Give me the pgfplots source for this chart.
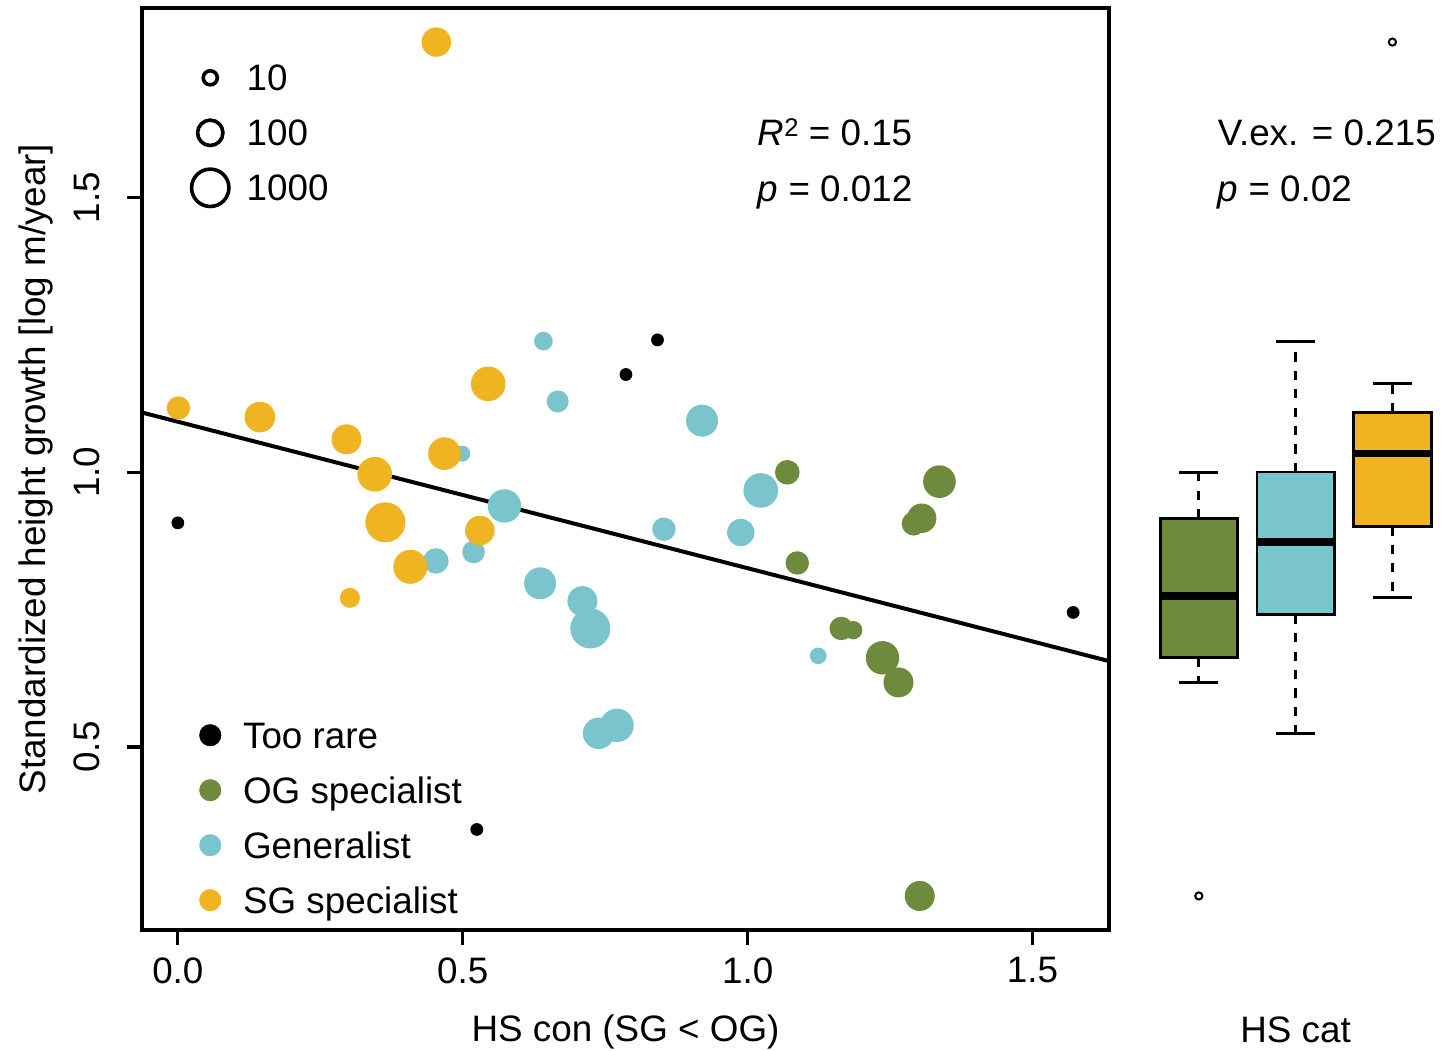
\documentclass[border=0pt]{standalone}
\usepackage{fontspec}
\setmainfont{Liberation Sans}
\usepackage{pgfplots}
\usepackage{pgfplotstable}
\pgfplotsset{compat=1.18}
\usepgfplotslibrary{statistics}
\definecolor{og}{HTML}{6E8B3D}
\definecolor{gen}{HTML}{7AC5CD}
\definecolor{sg}{HTML}{EEB422}

\def\perpointmarksize{2}
\pgfdeclareplotmark{bubble}{\pgfpathcircle{\pgfpointorigin}{\perpointmarksize pt}\pgfusepathqfill}

% x = HS con, y = height growth, r = bubble radius (pt)
\pgfplotstableread{
x y r
1.0696 1.000 3.08
1.3366 0.983 4.08
1.3055 0.9164 3.68
1.2915 0.9067 3.00
1.0871 0.835 2.93
1.1642 0.7158 2.93
1.1852 0.7127 2.30
1.2367 0.6624 4.18
1.2647 0.6176 3.75
1.302 0.229 3.75
}\ogdata
\pgfplotstableread{
x y r
0.6416 1.2387 2.33
0.6666 1.129 2.75
0.4991 1.034 2.00
0.920 1.094 4.00
0.5732 0.9387 4.18
1.023 0.967 4.33
0.853 0.8964 2.93
0.988 0.8904 3.43
0.4529 0.8387 3.18
0.519 0.855 2.83
0.6358 0.798 4.00
0.710 0.7655 3.75
0.7239 0.7158 5.00
1.1239 0.666 2.08
0.7384 0.525 3.93
0.7707 0.5395 4.18
}\gendata
\pgfplotstableread{
x y r
0.4536 1.783 3.68
0.001 1.117 2.93
0.144 1.1005 3.83
0.296 1.060 3.75
0.5447 1.161 4.33
0.468 1.034 4.08
0.3455 0.9964 4.33
0.3642 0.909 5.00
0.408 0.828 4.25
0.530 0.894 3.68
0.302 0.7715 2.50
}\sgdata
\pgfplotstableread{
x y r
0.0 0.908 1.6
0.7864 1.178 1.6
0.8418 1.241 1.6
0.5247 0.350 1.6
1.5713 0.745 1.6
}\raredata

\pgfplotsset{
  bub/.style={scatter, only marks, mark=bubble, forget plot,
    point meta=\thisrow{r},
    visualization depends on={\thisrow{r} \as \perpointmarksize},
    scatter/@pre marker code/.code={\scope[color=#1, fill=#1, mark size=\perpointmarksize pt]},
    scatter/@post marker code/.code={\endscope}},
  legimg/.style={legend image code/.code={%
    \draw[mark repeat=2,mark phase=2,##1] plot coordinates {(0pt,0pt) (8.5pt,0pt) (17pt,0pt)};
    \path[draw=none, fill=none] (0pt,-5.5pt) rectangle (17pt,5.5pt);}},
  legsty/.style={legend cell align=left, legimg,
    legend style={draw=none, fill=none, inner xsep=0pt, inner ysep=0pt,
      row sep=2.75pt,
      nodes={inner sep=0pt, text height=6.8pt, text depth=0.3pt}}},
  boxplot/draw/lower whisker/.code={%
    \draw[dash pattern=on 2.3pt off 2.3pt, line width=0.68pt]
      (boxplot box cs:\pgfplotsboxplotvalue{lower quartile},0.5) --
      (boxplot box cs:\pgfplotsboxplotvalue{lower whisker},0.5);
    \draw[line width=0.68pt]
      (boxplot whisker cs:\pgfplotsboxplotvalue{lower whisker},0) --
      (boxplot whisker cs:\pgfplotsboxplotvalue{lower whisker},1);},
  boxplot/draw/upper whisker/.code={%
    \draw[dash pattern=on 2.3pt off 2.3pt, line width=0.68pt]
      (boxplot box cs:\pgfplotsboxplotvalue{upper quartile},0.5) --
      (boxplot box cs:\pgfplotsboxplotvalue{upper whisker},0.5);
    \draw[line width=0.68pt]
      (boxplot whisker cs:\pgfplotsboxplotvalue{upper whisker},0) --
      (boxplot whisker cs:\pgfplotsboxplotvalue{upper whisker},1);},
}

\newcommand{\sqr}{\raisebox{2.3pt}{\fontsize{6.4}{7}\selectfont 2}}

\begin{document}
\fontsize{9.2}{11}\selectfont
\begin{tikzpicture}
\useasboundingbox (-35.5pt,-30pt) rectangle (327.25pt,232.5pt);

% ---------------- main scatter axis ----------------
\begin{axis}[name=main, at={(0pt,0pt)}, anchor=south west, scale only axis,
  width=241.75pt, height=230.5pt,
  xmin=-0.0629, xmax=1.6342, ymin=0.167, ymax=1.845,
  axis line style={line width=0.8pt},
  xtick={0,0.5,1,1.5}, ytick={0.5,1,1.5},
  xtick pos=left, ytick pos=left,
  tick align=outside, major tick length=3.8pt,
  tick style={line width=0.8pt, black},
  xticklabel style={anchor=north, inner sep=0pt}, xticklabel shift=2.9pt,
  yticklabel style={rotate=90, anchor=south, inner sep=0pt}, yticklabel shift=6.5pt,
  /pgf/number format/fixed, /pgf/number format/fixed zerofill,
  /pgf/number format/precision=1, /pgf/number format/assume math mode=true,
  xlabel={HS con (SG < OG)},
  xlabel style={at={(axis description cs:0.5,-0.1111)}, anchor=center, inner sep=0pt},
  ylabel={Standardized height growth [log m/year]},
  ylabel style={at={(axis description cs:-0.1096,0.5)}, anchor=center, inner sep=0pt},
  legsty,
  legend style={at={(axis description cs:0.0346,0.0076)}, anchor=south west, column sep=-0.3pt},
  clip=false,
]
\addplot[bub=og] table[x=x, y=y] {\ogdata};
\addplot[bub=gen] table[x=x, y=y] {\gendata};
\addplot[bub=sg] table[x=x, y=y] {\sgdata};
\addplot[bub=black] table[x=x, y=y] {\raredata};
\addplot[black, line width=1.0pt, forget plot] coordinates {(-0.0629,1.1088) (1.6342,0.6564)};

\addlegendimage{only marks, mark=*, mark size=2.7pt, black, line width=0.1pt}
\addlegendentry{Too rare}
\addlegendimage{only marks, mark=*, mark size=2.7pt, og, line width=0.1pt}
\addlegendentry{OG specialist}
\addlegendimage{only marks, mark=*, mark size=2.7pt, gen, line width=0.1pt}
\addlegendentry{Generalist}
\addlegendimage{only marks, mark=*, mark size=2.7pt, sg, line width=0.1pt}
\addlegendentry{SG specialist}

\node[anchor=base west, inner sep=0pt] at (axis cs:1.0165,1.5945) {\textit{R}\sqr{} = 0.15};
\node[anchor=base west, inner sep=0pt] at (axis cs:1.0165,1.4927) {\textit{p} = 0.012};
\end{axis}

% ---------------- size legend (overlay) ----------------
\begin{axis}[at={(0pt,0pt)}, anchor=south west, scale only axis,
  width=241.75pt, height=230.5pt, hide axis,
  xmin=0, xmax=1, ymin=0, ymax=1,
  legsty,
  legend style={at={(axis description cs:0.0346,0.949)}, anchor=north west, column sep=0.6pt},
]
\addlegendimage{only marks, mark=o, mark size=1.76pt, line width=0.9pt, black}
\addlegendentry{10}
\addlegendimage{only marks, mark=o, mark size=3.17pt, line width=0.9pt, black}
\addlegendentry{100}
\addlegendimage{only marks, mark=o, mark size=4.67pt, line width=0.9pt, black}
\addlegendentry{1000}
\end{axis}

% ---------------- boxplot panel ----------------
\begin{axis}[at={(249.2pt,0pt)}, anchor=south west, scale only axis,
  width=78.4pt, height=230.5pt,
  xmin=0.38, xmax=3.62, ymin=0.167, ymax=1.845,
  axis line style={draw=none}, xtick=\empty, ytick=\empty,
  clip=false,
  xlabel={HS cat},
  xlabel style={at={(axis description cs:0.5,-0.1085)}, anchor=center, inner sep=0pt},
  boxplot/draw direction=y,
  boxplot/every median/.style={line width=1.9pt},
]
\addplot[black, line width=0.7pt, mark=o, mark size=0.9pt, mark options={line width=0.5pt, fill=none},
  boxplot/every box/.style={draw=black, fill=og},
  boxplot prepared={draw position=1, lower whisker=0.6176, lower quartile=0.6624,
    median=0.7754, upper quartile=0.9164, upper whisker=1.0,
    box extend=0.8, whisker extend=0.4}]
  coordinates {(0,0.229)};
\addplot[black, line width=0.7pt, mark=o, mark size=0.9pt,
  boxplot/every box/.style={draw=black, fill=gen},
  boxplot prepared={draw position=2, lower whisker=0.525, lower quartile=0.7407,
    median=0.8727, upper quartile=1.0005, upper whisker=1.2387,
    box extend=0.8, whisker extend=0.4}]
  coordinates {};
\addplot[black, line width=0.7pt, mark=o, mark size=0.9pt, mark options={line width=0.5pt, fill=none},
  boxplot/every box/.style={draw=black, fill=sg},
  boxplot prepared={draw position=3, lower whisker=0.7715, lower quartile=0.9015,
    median=1.034, upper quartile=1.109, upper whisker=1.161,
    box extend=0.8, whisker extend=0.4}]
  coordinates {(0,1.783)};

\node[anchor=base west, inner sep=0pt] at (axis cs:1.188,1.5945) {V.ex. = 0.215};
\node[anchor=base west, inner sep=0pt] at (axis cs:1.188,1.4927) {\textit{p} = 0.02};
\end{axis}
\end{tikzpicture}
\end{document}
